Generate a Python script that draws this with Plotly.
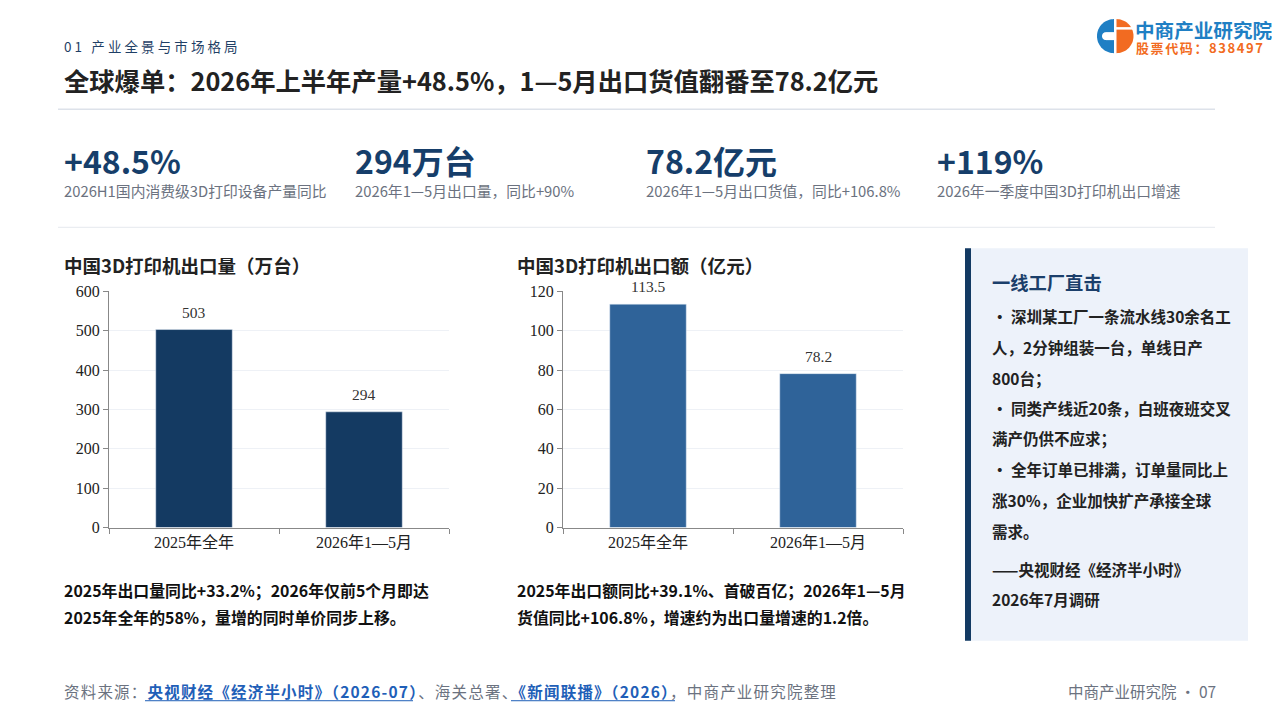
import math
import plotly.graph_objects as go

# the page shows the figure 8px in and about 16px down, squeezed a little
# in height, so positions below are given in screen pixels and mapped back
W, H = 1272, 720
OX, OY, SY = 8, 15.9, 0.9755

# data
categories = ["2025年全年", "2026年1—5月"]
export_volume = [503, 294]     # 万台
export_value = [113.5, 78.2]   # 亿元

kpi_values = ["+48.5%", "294万台", "78.2亿元", "+119%"]
kpi_notes = [
    "2026H1国内消费级3D打印设备产量同比",
    "2026年1—5月出口量，同比+90%",
    "2026年1—5月出口货值，同比+106.8%",
    "2026年一季度中国3D打印机出口增速",
]
panel_lines = [
    "· 深圳某工厂一条流水线30余名工",
    "人，2分钟组装一台，单线日产",
    "800台；",
    "· 同类产线近20条，白班夜班交叉",
    "满产仍供不应求；",
    "· 全年订单已排满，订单量同比上",
    "涨30%，企业加快扩产承接全球",
    "需求。",
]
panel_source = ["——央视财经《经济半小时》", "2026年7月调研"]

CJK = "Noto Sans CJK SC, Noto Sans, sans-serif"
SERIF = "Liberation Serif, Noto Sans CJK SC, serif"
NAVY = "#143a62"
BLUE = "#2f6399"
GREY = "#6b7280"


def fx(x):
    return (x - OX) / W


def fy(y):
    return 1 - (y - OY) / SY / H


annotations = []
shapes = []


def spaced(s, ls):
    return "<span style='letter-spacing:%spx'>%s</span>" % (ls, s)


def text(x, y, s, size, color, bold=False, anchor="left", family=CJK):
    x = x - 3 if anchor == "left" else x + 3
    annotations.append(dict(
        x=fx(x), y=fy(y), xref="paper", yref="paper", text=s, showarrow=False,
        xanchor=anchor, yanchor="middle",
        font=dict(size=size, color=color, family=family,
                  weight="bold" if bold else "normal")))


def line(x0, y0, x1, y1, color, width=1):
    shapes.append(dict(type="line", xref="paper", yref="paper",
                       x0=fx(x0), y0=fy(y0), x1=fx(x1), y1=fy(y1),
                       line=dict(color=color, width=width)))


def rect(x0, y0, x1, y1, color):
    shapes.append(dict(type="rect", xref="paper", yref="paper", layer="below",
                       x0=fx(x0), y0=fy(y0), x1=fx(x1), y1=fy(y1),
                       fillcolor=color, line=dict(width=0)))


def poly(points, color):
    d = "M " + " L ".join(f"{fx(px):.5f},{fy(py):.5f}" for px, py in points) + " Z"
    shapes.append(dict(type="path", xref="paper", yref="paper", path=d,
                       fillcolor=color, line=dict(width=0)))


def sector(cx, cy, r, a0, a1, n=40):
    pts = [(cx + r * math.cos(math.radians(a0 + (a1 - a0) * i / n)),
            cy - r * math.sin(math.radians(a0 + (a1 - a0) * i / n))) for i in range(n + 1)]
    return pts + [(cx, cy)]


def box(x0, y0, x1, y1):
    return [(x0, y0), (x1, y0), (x1, y1), (x0, y1)]


fig = go.Figure()

fig.add_trace(go.Bar(x=categories, y=export_volume, marker_color=NAVY, width=0.45,
                     xaxis="x", yaxis="y", hoverinfo="skip"))
fig.add_trace(go.Bar(x=categories, y=export_value, marker_color=BLUE, width=0.45,
                     xaxis="x2", yaxis="y2", hoverinfo="skip"))

# value labels above bars
for xr, yr, vals in (("x", "y", export_volume), ("x2", "y2", export_value)):
    for c, v in zip(categories, vals):
        annotations.append(dict(x=c, y=v, xref=xr, yref=yr, text=f"{v:g}", showarrow=False,
                                yanchor="bottom", yshift=7,
                                font=dict(size=15.5, color="#333333", family=SERIF)))

# header
text(65, 46, spaced("01 产业全景与市场格局", 3.1), 13.5, "#1f3f66")
text(65, 80, "全球爆单：2026年上半年产量+48.5%，1—5月出口货值翻番至78.2亿元", 25.3, "#222222", bold=True)
line(58, 109, 1215, 109, "#dde2ea", 1.5)

# logo: blue "C" on the left, orange "i" on the right
poly(sector(1114, 36, 17, 90, 270), "#1f7fc4")
poly(sector(1106, 36, 4, 90, 270), "white")
poly(box(1106, 32, 1114.5, 40), "white")
poly(sector(1116.5, 36, 17, -90, 90), "#f26b21")
poly(box(1116, 27, 1135, 29.5), "white")
text(1136, 29, "中商产业研究院", 19.6, "#1f7fc4", bold=True)
text(1137, 47, spaced("股票代码：838497", 1.6), 13, "#f26b21", bold=True)

# KPI row
for i, (v, n) in enumerate(zip(kpi_values, kpi_notes)):
    x = 65 + i * 291
    text(x, 160, v, 32, "#163e6a", bold=True)
    text(x, 190, n, 14.8, GREY)
line(58, 227, 1215, 227, "#e5e8ee", 1)

# chart titles and captions
text(65, 265, "中国3D打印机出口量（万台）", 18.5, "#222222", bold=True)
text(518, 265, "中国3D打印机出口额（亿元）", 18.5, "#222222", bold=True)
text(65, 590, "2025年出口量同比+33.2%；2026年仅前5个月即达", 15.9, "#111111", bold=True)
text(65, 617, "2025年全年的58%，量增的同时单价同步上移。", 15.9, "#111111", bold=True)
text(518, 590, "2025年出口额同比+39.1%、首破百亿；2026年1—5月", 15.9, "#111111", bold=True)
text(518, 617, "货值同比+106.8%，增速约为出口量增速的1.2倍。", 15.9, "#111111", bold=True)

# side panel
rect(965, 248, 1248, 640, "#edf2fa")
rect(965, 248, 971, 640, "#133a63")
text(993, 282, "一线工厂直击", 18.3, "#1b3f6b", bold=True)
panel_y = [316, 347, 378, 408, 438, 468, 499, 530]
for y, s in zip(panel_y, panel_lines):
    text(993, y, s, 15.5, "#222222", bold=True)
text(993, 568, panel_source[0], 15.5, "#222222", bold=True)
text(993, 598, panel_source[1], 15.5, "#222222", bold=True)

# footer
link = "#1f5fb8"
text(65, 690, spaced(
     "资料来源：<span style='color:%s'><b>央视财经《经济半小时》（2026-07）</b></span>、海关总署、"
     "<span style='color:%s'><b>《新闻联播》（2026）</b></span>，中商产业研究院整理" % (link, link), 1.2),
     15.5, GREY)
line(145, 700, 413, 700, link, 1)
line(511, 700, 675, 700, link, 1)
text(1215, 690, "中商产业研究院 · 07", 15.5, GREY, anchor="right")

axis_common = dict(showline=True, linecolor="#888888", linewidth=1, ticks="outside",
                   ticklen=5, tickcolor="#888888", fixedrange=True)
xcommon = dict(axis_common, tickson="boundaries", showgrid=False,
               tickfont=dict(family=SERIF, size=16, color="#222222"))
ycommon = dict(axis_common, showgrid=True, gridcolor="#eef1f6", zeroline=False,
               tickfont=dict(family=SERIF, size=16, color="#222222"))

fig.update_layout(
    width=W, height=H,
    margin=dict(l=0, r=0, t=0, b=0),
    paper_bgcolor="white", plot_bgcolor="white",
    showlegend=False, bargap=0.55,
    font=dict(family=CJK),
    xaxis=dict(xcommon, domain=[fx(109), fx(449)], anchor="y"),
    yaxis=dict(ycommon, domain=[fy(527), fy(291)], range=[0, 600], dtick=100, anchor="x"),
    xaxis2=dict(xcommon, domain=[fx(563), fx(903)], anchor="y2"),
    yaxis2=dict(ycommon, domain=[fy(527), fy(291)], range=[0, 120], dtick=20, anchor="x2"),
    annotations=annotations,
    shapes=shapes,
)

fig.write_html("out.html")
